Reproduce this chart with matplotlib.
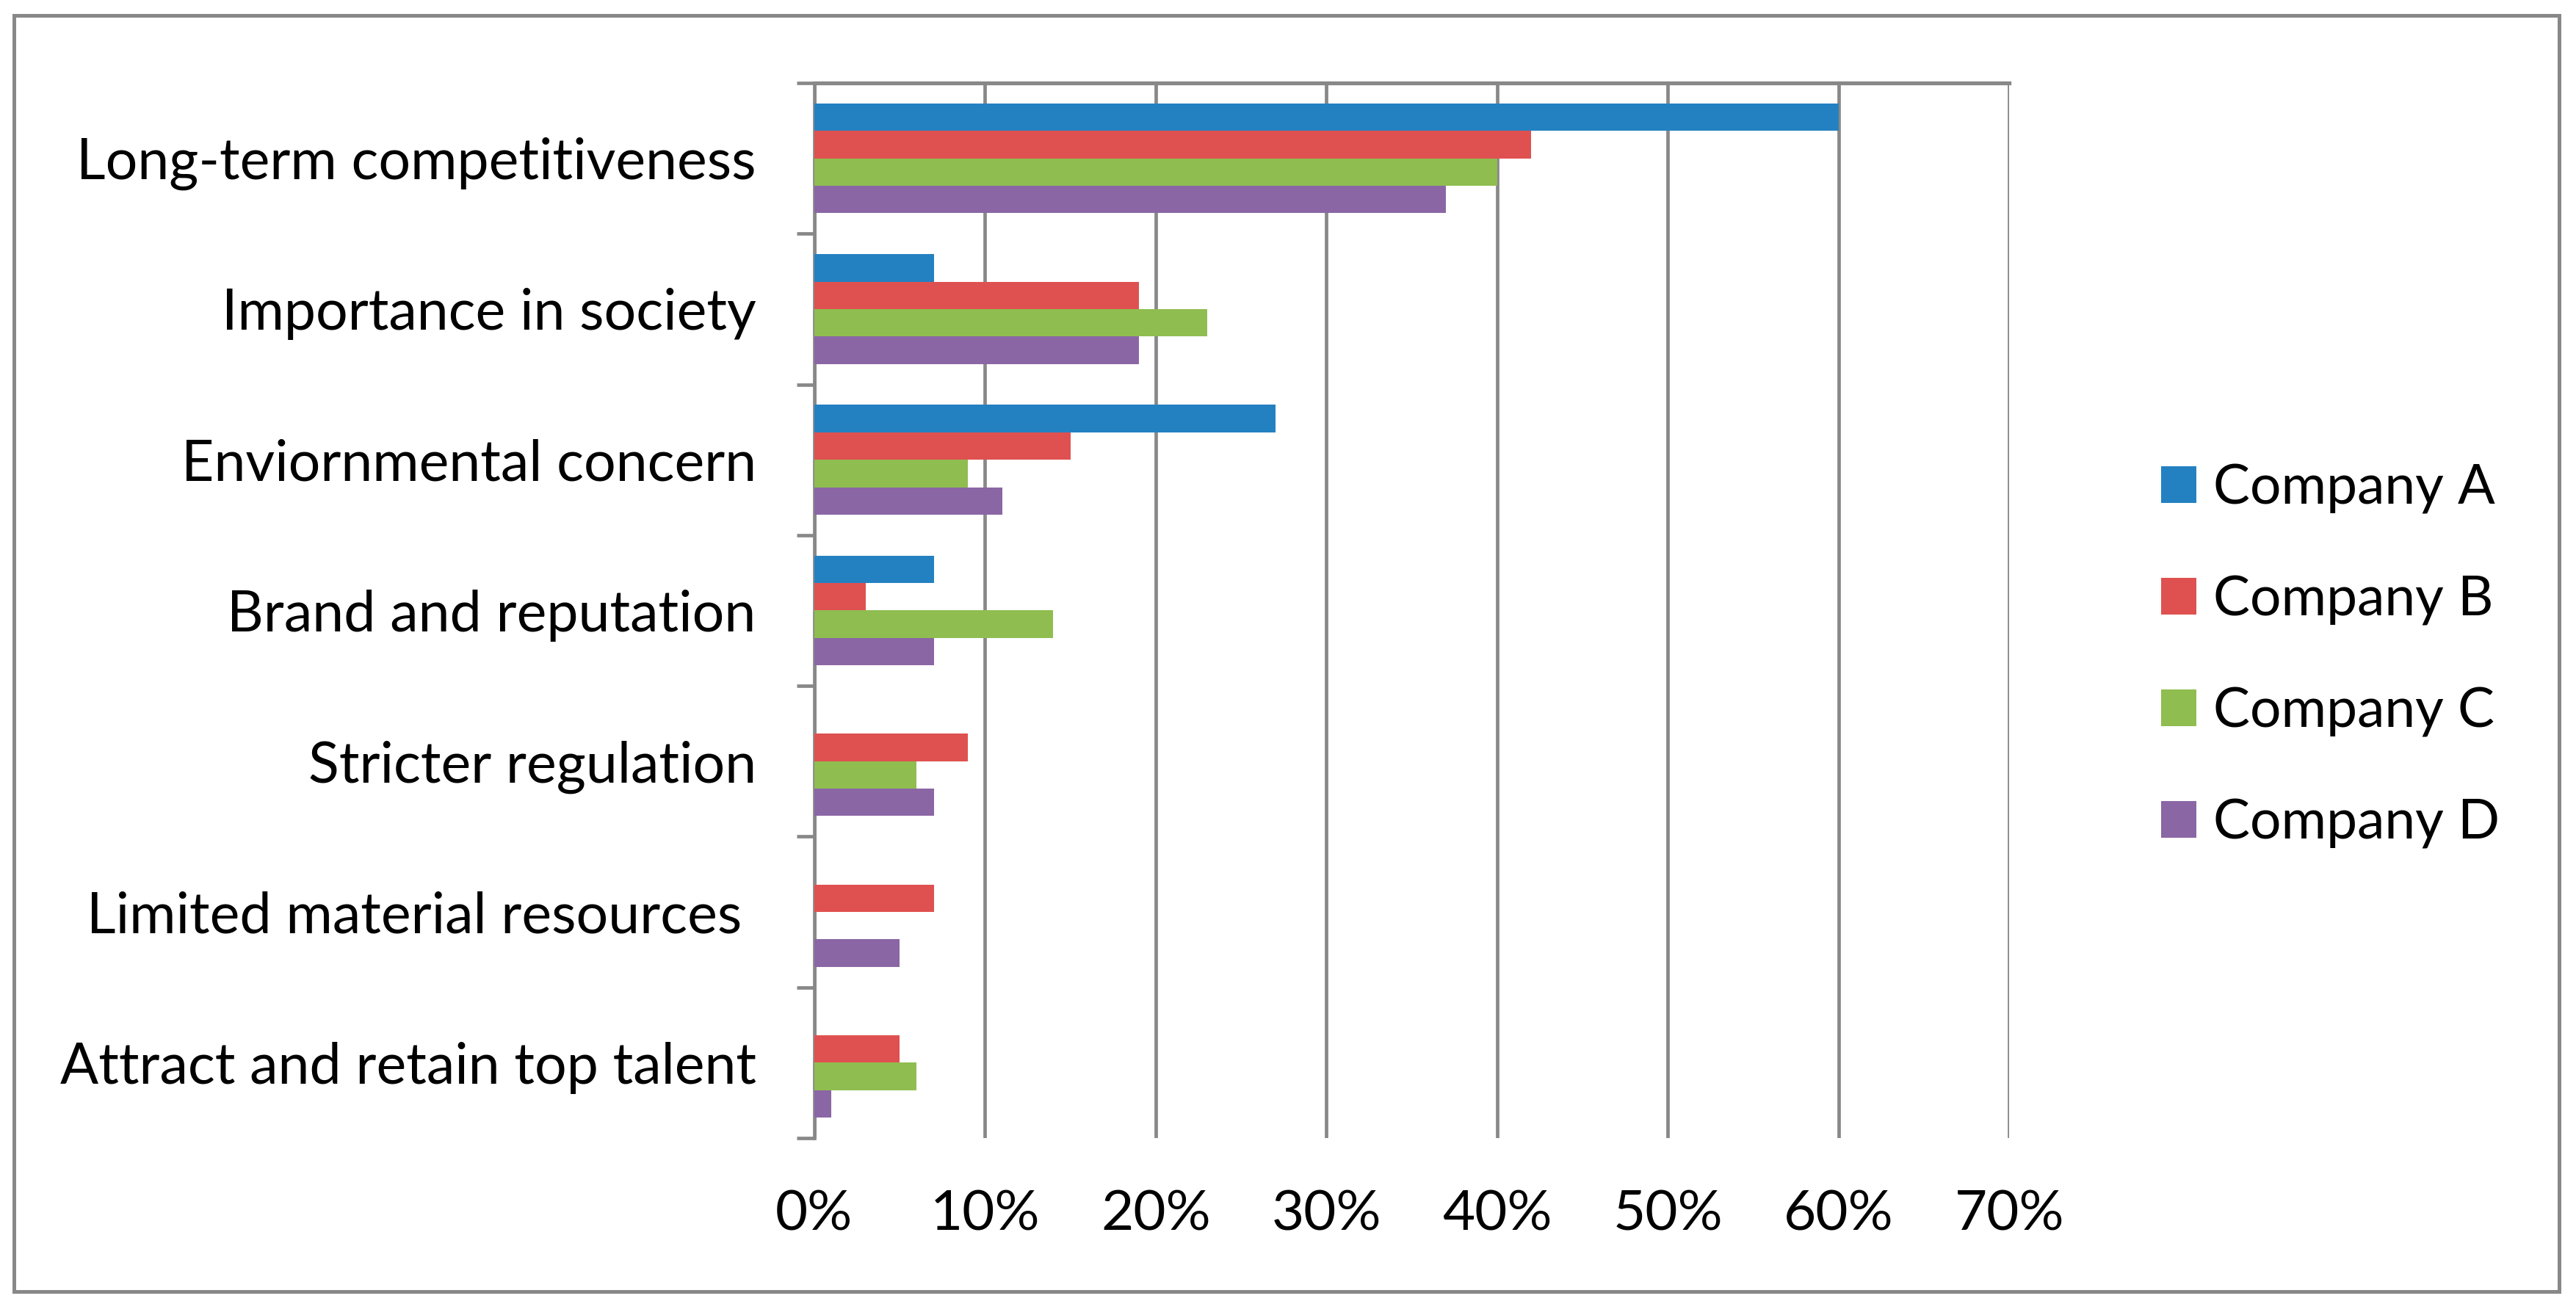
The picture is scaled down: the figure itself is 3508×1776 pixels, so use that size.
import numpy as np
import matplotlib.pyplot as plt
from matplotlib.patches import Rectangle

categories = ["Long-term competitiveness", "Importance in society", "Enviornmental concern",
              "Brand and reputation", "Stricter regulation", "Limited material resources ",
              "Attract and retain top talent"]
companies = ["Company A", "Company B", "Company C", "Company D"]
company_a = [60, 7, 27, 7, 0, 0, 0]
company_b = [42, 19, 15, 3, 9, 7, 5]
company_c = [40, 23, 9, 14, 6, 0, 6]
company_d = [37, 19, 11, 7, 7, 5, 1]
x_ticks = [0, 10, 20, 30, 40, 50, 60, 70]
x_labels = ["0%", "10%", "20%", "30%", "40%", "50%", "60%", "70%"]

colors = ["#2481c1", "#df5150", "#8fbd50", "#8b66a5"]
grey = "#888888"

plt.rcParams["font.family"] = ["Lato", "DejaVu Sans"]

fig = plt.figure(figsize=(35.08, 17.76), dpi=100)
ax = fig.add_axes([0.3161, 0.1273, 0.7800 - 0.3161, 0.9364 - 0.1273])

y = np.arange(len(categories))
h = 0.182
series = [company_a, company_b, company_c, company_d]
for j, vals in enumerate(series):
    ax.barh(y + (j - 1.5) * h, vals, height=h, color=colors[j], label=companies[j], zorder=3)

ax.set_xlim(0, 70)
ax.set_ylim(len(categories) - 0.5, -0.5)

ax.set_xticks(x_ticks)
ax.set_xticklabels(x_labels)
ax.tick_params(axis="x", length=0, pad=50, labelsize=55)
ax.grid(axis="x", color=grey, linewidth=3.4, zorder=1)

ax.set_yticks(y)
ax.set_yticklabels(categories)
ax.set_yticks(np.arange(len(categories) + 1) - 0.5, minor=True)
ax.tick_params(axis="y", which="major", length=0, pad=57, labelsize=55.5)
ax.tick_params(axis="y", which="minor", length=17, width=3.4, color=grey, direction="out")

for s in ["right", "bottom"]:
    ax.spines[s].set_visible(False)
ax.spines["left"].set_color(grey)
ax.spines["left"].set_linewidth(3.4)
ax.spines["top"].set_color(grey)
ax.spines["top"].set_linewidth(3.8)

fig.legend(loc="center left", bbox_to_anchor=(0.839, 0.497), frameon=False, fontsize=54,
           handlelength=0.64, handleheight=0.64, handletextpad=0.3, labelspacing=1.1,
           borderpad=0, borderaxespad=0)

fig.patches.append(Rectangle((19 / 3508, 1 - 1759 / 1776), (3485 - 19) / 3508, (1759 - 21) / 1776,
                             transform=fig.transFigure, fill=False, edgecolor=grey, linewidth=3.6))

fig.savefig("out.png", dpi=100)
